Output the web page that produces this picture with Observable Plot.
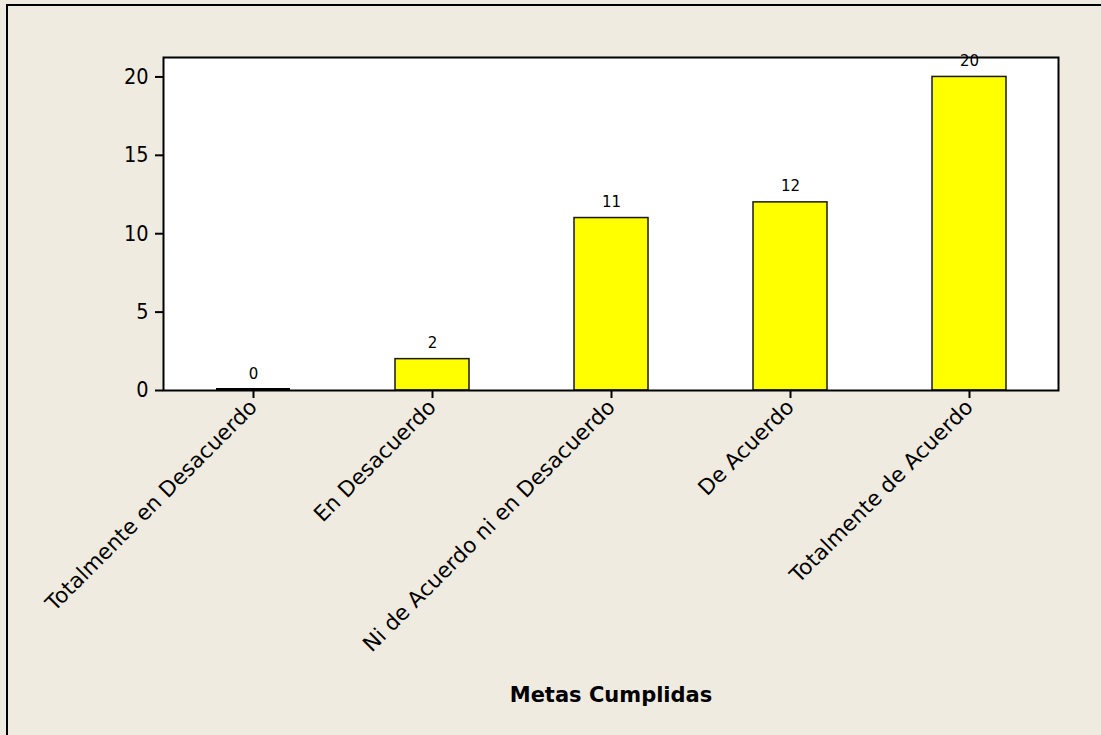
<!DOCTYPE html>
<html>
<head>
<meta charset="utf-8">
<script src="https://cdn.jsdelivr.net/npm/d3@7"></script>
<script src="https://cdn.jsdelivr.net/npm/@observablehq/plot@0.6"></script>
<style>
  html, body { margin: 0; padding: 0; background: #EFEBE1; }
  #wrap { position: relative; width: 1101px; height: 735px; overflow: hidden; }
  #border { position: absolute; left: 6px; top: 4px; width: 1200px; height: 800px;
            border-left: 2px solid #000; border-top: 2px solid #000; box-sizing: border-box; }
  #chart { position: absolute; left: 0; top: 0; }
</style>
</head>
<body>
<div id="wrap">
  <div id="border"></div>
  <div id="chart"></div>
</div>
<script>
const categories = [
  "Totalmente en Desacuerdo",
  "En Desacuerdo",
  "Ni de Acuerdo ni en Desacuerdo",
  "De Acuerdo",
  "Totalmente de Acuerdo"
];
const counts = [0, 2, 11, 12, 20];
const yTicks = [0, 5, 10, 15, 20];
const xTitle = "Metas Cumplidas";

const data = categories.map((c, i) => ({category: c, count: counts[i]}));

const chart = Plot.plot({
  width: 1101,
  height: 735,
  marginLeft: 163,
  marginTop: 57,
  marginRight: 43,
  marginBottom: 345,
  style: {background: "transparent", fontFamily: "'DejaVu Sans', Verdana, sans-serif", color: "#000"},
  x: {domain: categories, paddingInner: 0.587, paddingOuter: 0.2935},
  y: {domain: [0, 21.24]},
  marks: [
    Plot.frame({fill: "white", stroke: null}),
    Plot.barY(data, {x: "category", y: "count", fill: "#FFFF00", stroke: "#1a1a1a", strokeWidth: 1.5}),
    Plot.tickY(data.filter(d => d.count === 0), {x: "category", y: "count", stroke: "#000", strokeWidth: 3, dy: -1}),
    Plot.text(data, {x: "category", y: "count", text: d => String(d.count), dy: -16, fontSize: 15, fill: "#000"}),
    Plot.axisY({ticks: yTicks, tickSize: 8, tickPadding: 7, fontSize: 21.5, fontFamily: "'DejaVu Sans Condensed', 'DejaVu Sans', sans-serif", label: null, strokeWidth: 2}),
    Plot.axisX({tickRotate: -45, tickSize: 8, tickPadding: 5, fontSize: 21.5, label: null, strokeWidth: 2}),
    Plot.frame({stroke: "#000", strokeWidth: 2}),
    Plot.text([xTitle], {frameAnchor: "bottom", dy: 311, fontSize: 21, fontWeight: "bold", fill: "#000"})
  ]
});
document.getElementById("chart").appendChild(chart);
</script>
</body>
</html>
